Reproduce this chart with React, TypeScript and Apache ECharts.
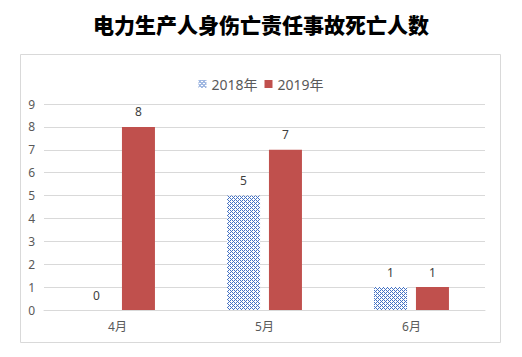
import React, { useEffect, useRef } from "react";
import * as echarts from "echarts";

const titleText = "电力生产人身伤亡责任事故死亡人数";
const categories = ["4月", "5月", "6月"];
const seriesNames = ["2018年", "2019年"];
const values2018 = [0, 5, 1];
const values2019 = [8, 7, 1];
const yMax = 9;

function makePattern(): HTMLCanvasElement {
  const c = document.createElement("canvas");
  c.width = 4;
  c.height = 4;
  const ctx = c.getContext("2d")!;
  ctx.fillStyle = "#ffffff";
  ctx.fillRect(0, 0, 4, 4);
  ctx.fillStyle = "#4472c4";
  const pts = [
    [0, 0], [2, 0], [1, 1], [0, 2], [2, 2], [3, 3],
  ];
  pts.forEach(([x, y]) => ctx.fillRect(x, y, 1, 1));
  return c;
}

export default function App() {
  const ref = useRef<HTMLDivElement>(null);
  useEffect(() => {
    document.body.style.margin = "0";
    if (!ref.current) return;
    const chart = echarts.init(ref.current, null, { renderer: "svg" });
    const pattern = makePattern();
    const labelStyle = {
      show: true,
      position: "top" as const,
      distance: 9,
      color: "#404040",
      fontSize: 12,
      fontFamily: "Noto Sans, sans-serif",
    };
    chart.setOption({
      animation: false,
      backgroundColor: "#ffffff",
      title: {
        text: titleText,
        left: "center",
        top: 8,
        textStyle: {
          fontSize: 21,
          fontWeight: 900,
          color: "#000000",
          fontFamily: "Noto Sans CJK SC",
        },
      },
      graphic: [
        {
          type: "rect",
          shape: { x: 20.5, y: 54.5, width: 480, height: 288 },
          style: { fill: "none", stroke: "#d9d9d9", lineWidth: 1 },
          silent: true,
        },
      ],
      legend: {
        top: 72,
        left: "center",
        itemWidth: 8,
        itemHeight: 8,
        itemGap: 7,
        icon: "rect",
        textStyle: {
          fontSize: 14,
          color: "#595959",
          fontFamily: "Noto Sans, Noto Sans CJK SC, sans-serif",
        },
        data: seriesNames,
      },
      grid: { left: 44, right: 37, top: 104, bottom: 47 },
      xAxis: {
        type: "category",
        data: categories,
        axisLine: { lineStyle: { color: "#d9d9d9" } },
        axisTick: { show: false },
        axisLabel: {
          color: "#595959",
          fontSize: 12,
          margin: 10,
          fontFamily: "Noto Sans, Noto Sans CJK SC, sans-serif",
        },
      },
      yAxis: {
        type: "value",
        min: 0,
        max: yMax,
        interval: 1,
        axisLine: { show: false },
        axisTick: { show: false },
        splitLine: { lineStyle: { color: "#d9d9d9" } },
        axisLabel: {
          color: "#595959",
          fontSize: 12,
          margin: 9,
          fontFamily: "Noto Sans, sans-serif",
        },
      },
      series: [
        {
          name: seriesNames[0],
          type: "bar",
          data: values2018,
          barWidth: 33,
          barGap: "27%",
          itemStyle: {
            color: {
              image: pattern,
              repeat: "repeat",
              imageWidth: 4,
              imageHeight: 4,
            } as any,
          },
          label: labelStyle,
        },
        {
          name: seriesNames[1],
          type: "bar",
          data: values2019,
          barWidth: 33,
          barGap: "27%",
          itemStyle: { color: "#c0504d" },
          label: labelStyle,
        },
      ],
    });
    return () => chart.dispose();
  }, []);
  return <div ref={ref} style={{ width: 522, height: 357 }} />;
}
